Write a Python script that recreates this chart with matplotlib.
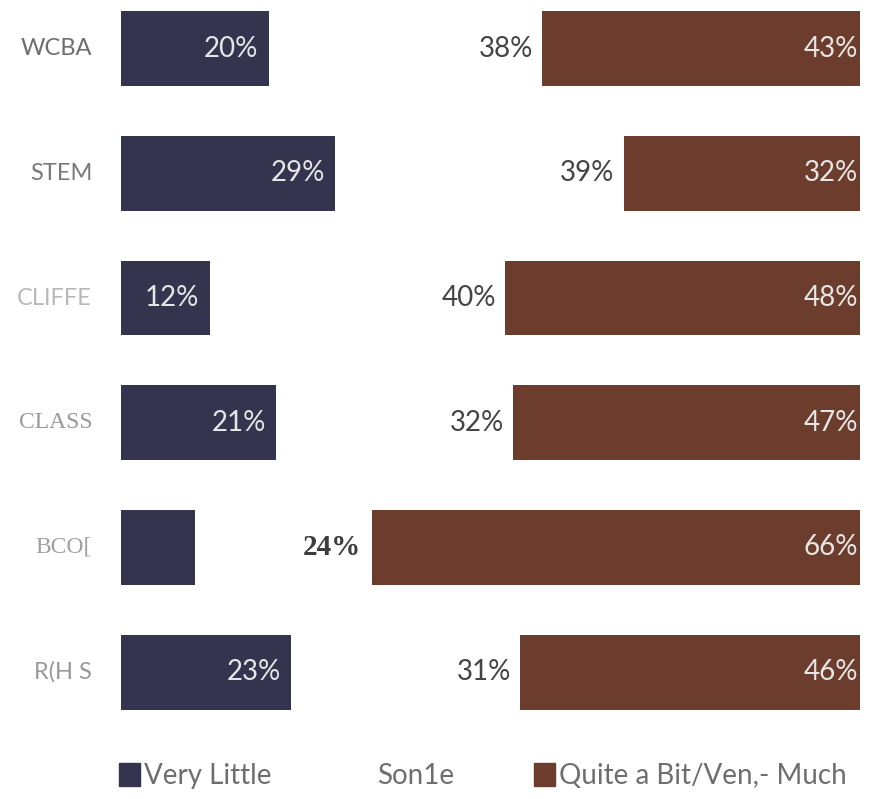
import matplotlib
matplotlib.use("Agg")
import matplotlib.pyplot as plt
from matplotlib.patches import Patch

# Survey responses per unit, in percent
units = ["WCBA", "STEM", "CLIFFE", "CLASS", "BCO[", "R(H S"]
very_little = [20, 29, 12, 21, 10, 23]
some = [38, 39, 40, 32, 24, 31]
quite_a_bit = [43, 32, 48, 47, 66, 46]
show_little_label = [True, True, True, True, False, True]

legend_labels = ["Very Little", "Son1e", "Quite a Bit/Ven,- Much"]

BLUE = "#34344f"
BROWN = "#6c3d2c"
SANS = "Lato"
SERIF = "Liberation Serif"

unit_styles = {
    "WCBA": dict(family=SANS, color="#6e6e6e"),
    "STEM": dict(family=SANS, color="#7a7a7a"),
    "CLIFFE": dict(family=SANS, color="#b8b8b8"),
    "CLASS": dict(family=SERIF, color="#9a9a9a"),
    "BCO[": dict(family=SERIF, color="#a0a0a0"),
    "R(H S": dict(family=SANS, color="#999999"),
}

fig = plt.figure(figsize=(8.71, 7.99), dpi=100)
ax = fig.add_axes([121 / 871, 77 / 799, 739 / 871, 722 / 799])

rows = range(len(units))
bar_h = 0.6

ax.barh(rows, very_little, height=bar_h, color=BLUE)
brown_left = [100 - q for q in quite_a_bit]
ax.barh(rows, quite_a_bit, left=brown_left, height=bar_h, color=BROWN)

for i, name in enumerate(units):
    ax.text(-3.9, i, name, ha="right", va="center", fontsize=17,
            **unit_styles[name])
    if show_little_label[i]:
        ax.text(very_little[i] - 1.4, i, f"{very_little[i]}%", ha="right",
                va="center", fontsize=20, color="#e6e6e6", family=SANS)
    if name == "BCO[":
        ax.text(brown_left[i] - 1.5, i, f"{some[i]}%", ha="right",
                va="center", fontsize=21, color="#3c3c3c", family=SERIF,
                fontweight="bold")
    else:
        ax.text(brown_left[i] - 1.2, i, f"{some[i]}%", ha="right",
                va="center", fontsize=20, color="#444444", family=SANS)
    ax.text(99.7, i, f"{quite_a_bit[i]}%", ha="right", va="center",
            fontsize=20, color="#e6e6e6", family=SANS)

ax.set_xlim(0, 100)
ax.set_ylim(5.4, -0.39)
ax.axis("off")

handles = [Patch(color=BLUE), Patch(color="white"), Patch(color=BROWN)]
fig.legend(handles, legend_labels, loc="center", ncol=3,
           bbox_to_anchor=(483 / 871, 1 - 776 / 799), frameon=False,
           handlelength=0.75, handleheight=0.9, handletextpad=0.15,
           columnspacing=2.9,
           prop=dict(family=SANS, size=20), labelcolor="#6e6e6e")

fig.savefig("out.png", dpi=100)
